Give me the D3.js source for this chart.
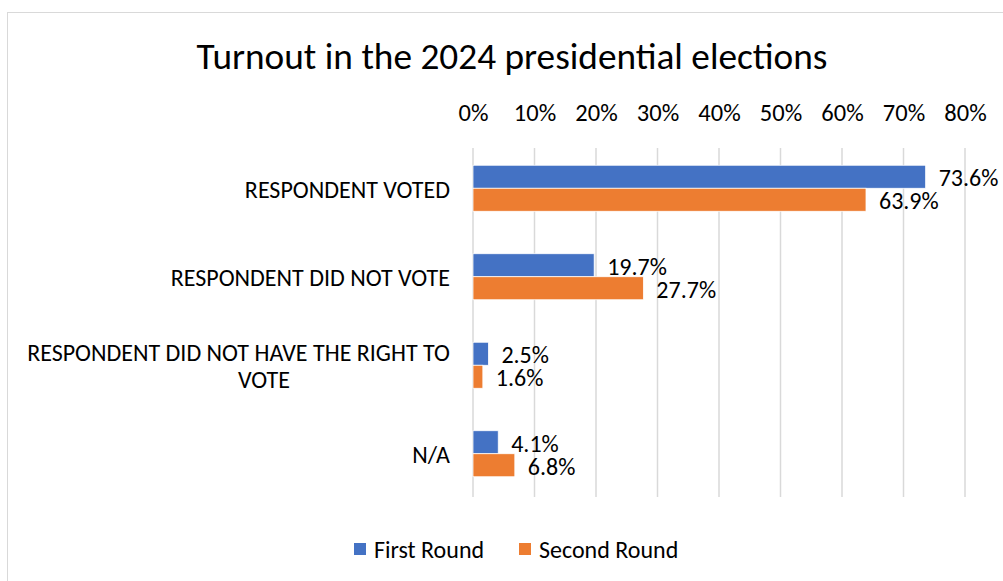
<!DOCTYPE html>
<html>
<head>
<meta charset="utf-8">
<script src="https://cdn.jsdelivr.net/npm/d3@7/dist/d3.min.js"></script>
<style>
  html, body { margin: 0; padding: 0; background: #fff; }
  svg { display: block; font-family: "Carlito", "Lato", "Open Sans", sans-serif; }
</style>
</head>
<body>
<svg id="chart" width="1003" height="581"></svg>
<script>
// Survey answers and the share of respondents for each election round
const categories = [
  "RESPONDENT VOTED",
  "RESPONDENT DID NOT VOTE",
  "RESPONDENT DID NOT HAVE THE RIGHT TO VOTE",
  "N/A"
];
const seriesNames = ["First Round", "Second Round"];
const firstRound = [73.6, 19.7, 2.5, 4.1];
const secondRound = [63.9, 27.7, 1.6, 6.8];
const tickValues = [0, 10, 20, 30, 40, 50, 60, 70, 80];
const titleText = "Turnout in the 2024 presidential elections";

const colors = { "First Round": "#4472C4", "Second Round": "#ED7D31" };

const rows = categories.map((c, i) => ({
  category: c,
  values: [
    { series: seriesNames[0], value: firstRound[i] },
    { series: seriesNames[1], value: secondRound[i] }
  ]
}));

const svg = d3.select("#chart");

// chart frame
svg.append("rect")
  .attr("x", 7.5).attr("y", 12.5)
  .attr("width", 1010).attr("height", 600)
  .attr("fill", "#fff")
  .attr("stroke", "#d9d9d9").attr("stroke-width", 1);

// title
svg.append("text")
  .attr("x", 512).attr("y", 69)
  .attr("text-anchor", "middle")
  .attr("font-size", 37.3)
  .attr("fill", "#000")
  .text(titleText);

const x = d3.scaleLinear().domain([0, 80]).range([473, 965]);
const y0 = d3.scaleBand().domain(categories).range([144, 498]);
const groupHeight = 46;
const y1 = d3.scaleBand().domain(seriesNames).range([0, groupHeight]);
const groupOffset = (y0.bandwidth() - groupHeight) / 2;

// vertical gridlines
svg.append("g")
  .selectAll("line")
  .data(tickValues)
  .join("line")
  .attr("x1", d => x(d)).attr("x2", d => x(d))
  .attr("y1", 148).attr("y2", 497)
  .attr("stroke", "#d9d9d9").attr("stroke-width", 1.5);

// top axis with percent labels
const axis = d3.axisTop(x)
  .tickValues(tickValues)
  .tickFormat(d => d + "%")
  .tickSize(0)
  .tickPadding(0);
const axisG = svg.append("g")
  .attr("transform", "translate(0,121)")
  .call(axis);
axisG.select(".domain").remove();
axisG.selectAll("text")
  .attr("font-family", "Carlito, Lato, 'Open Sans', sans-serif")
  .attr("font-size", 24.5)
  .attr("fill", "#000");

// bars
const groups = svg.append("g")
  .selectAll("g")
  .data(rows)
  .join("g")
  .attr("transform", d => `translate(0,${y0(d.category) + groupOffset})`);

groups.selectAll("rect")
  .data(d => d.values)
  .join("rect")
  .attr("x", x(0))
  .attr("y", d => y1(d.series))
  .attr("width", d => x(d.value) - x(0))
  .attr("height", y1.bandwidth())
  .attr("fill", d => colors[d.series])
  .attr("stroke", "#fff").attr("stroke-width", 0.75);

// value labels
groups.selectAll("text")
  .data(d => d.values)
  .join("text")
  .attr("x", d => x(d.value) + 13)
  .attr("y", d => y1(d.series) + y1.bandwidth() / 2 + 1)
  .attr("dy", "0.35em")
  .attr("font-size", 24)
  .attr("fill", "#000")
  .text(d => d.value.toFixed(1) + "%");

// category labels, long ones wrapped onto two lines
const labelLines = {
  "RESPONDENT DID NOT HAVE THE RIGHT TO VOTE": ["RESPONDENT DID NOT HAVE THE RIGHT TO", "VOTE"]
};
const catG = svg.append("g");
categories.forEach(c => {
  const cy = y0(c) + y0.bandwidth() / 2;
  const lines = labelLines[c];
  if (!lines) {
    catG.append("text")
      .attr("x", 450).attr("y", cy + 1)
      .attr("dy", "0.36em")
      .attr("text-anchor", "end")
      .attr("font-size", 24)
      .attr("fill", "#000")
      .text(c);
  } else {
    catG.append("text")
      .attr("x", 450).attr("y", cy - 13)
      .attr("dy", "0.36em")
      .attr("text-anchor", "end")
      .attr("font-size", 24)
      .attr("fill", "#000")
      .text(lines[0]);
    catG.append("text")
      .attr("x", 264).attr("y", cy + 14)
      .attr("dy", "0.36em")
      .attr("text-anchor", "middle")
      .attr("font-size", 24)
      .attr("fill", "#000")
      .text(lines[1]);
  }
});

// legend
const legendItems = [
  { name: seriesNames[0], x: 354 },
  { name: seriesNames[1], x: 519 }
];
const legend = svg.append("g");
legendItems.forEach(item => {
  legend.append("rect")
    .attr("x", item.x).attr("y", 543)
    .attr("width", 12).attr("height", 12)
    .attr("fill", colors[item.name]);
  legend.append("text")
    .attr("x", item.x + 20).attr("y", 549)
    .attr("dy", "0.36em")
    .attr("font-size", 24)
    .attr("fill", "#000")
    .text(item.name);
});
</script>
</body>
</html>
